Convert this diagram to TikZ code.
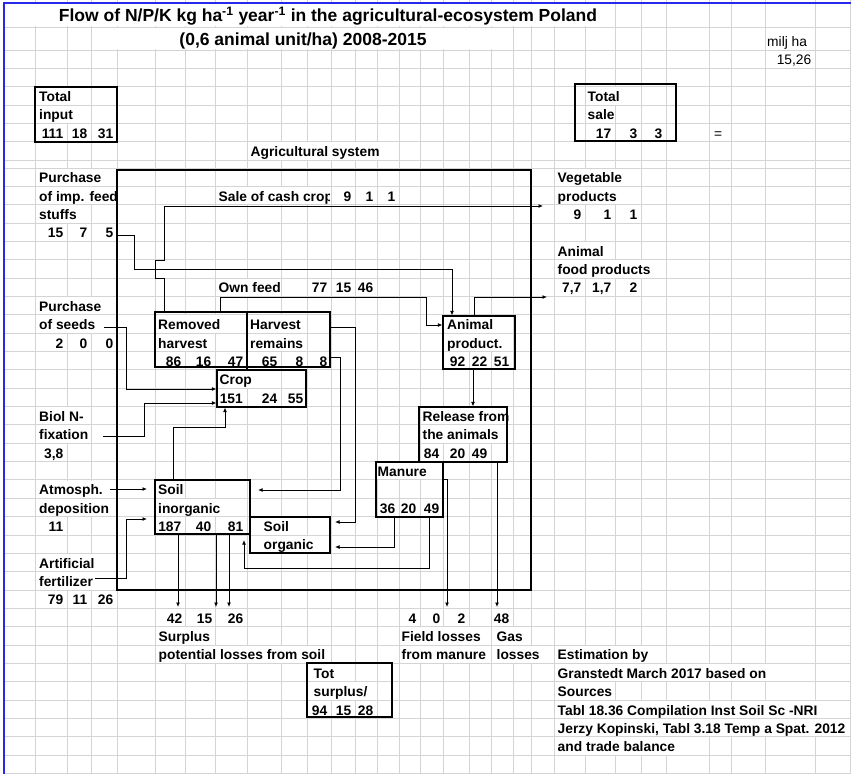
\documentclass[tikz,border=0pt]{standalone}
\usepackage{fontspec}
\setmainfont{Liberation Sans}
\usepackage{tikz}
\usetikzlibrary{arrows.meta, fit}
\definecolor{gridgray}{RGB}{212,212,212}
\definecolor{sheetblue}{RGB}{40,40,235}
\newcommand{\cellfont}{\fontsize{13.8}{16}\selectfont\bfseries}
\newcommand{\plainfont}{\fontsize{13.8}{16}\selectfont}
\newcommand{\titlefont}{\fontsize{17.5}{20}\selectfont\bfseries}
% baseline of sheet row r (rows below the thin spacer row)
\newcommand{\rowy}[1]{182.85+18.35*#1}
\tikzset{
  gridline/.style = {draw=gridgray, line width=1pt},
  lbl/.style      = {anchor=base west, font=\cellfont, fill=white, inner xsep=0.5pt, inner ysep=0pt, text height=14.3pt, text depth=3pt},
  num/.style      = {anchor=base east, font=\cellfont, inner sep=0pt},
  plain/.style    = {font=\plainfont, inner sep=0pt},
  blk/.style      = {draw, line width=1.1pt, inner sep=0pt},
  flow/.style     = {-{Latex[length=4.5pt, width=4pt]}, line width=0.9pt},
}

\begin{document}
\begin{tikzpicture}[x=1pt, y=-1pt]
    \useasboundingbox (0,0) rectangle (851,774);
    \clip (0,0) rectangle (851,774);

    % sheet grid
    \foreach \gx in {35,67,91,117,155,185,215,247,281,307,331,355,377,399,420,443,469,491,513,531,554,585,615,641,666,709,731,765,815,850}
      \draw[gridline] (\gx,0) -- (\gx,774);
    \foreach \gy in {27,50,68.35,86.7,105.05,123.4,141.75,160.1}
      \draw[gridline] (4,\gy) -- (851,\gy);
    \foreach \k in {0,...,33}
      \draw[gridline] (4,{168+18.35*\k}) -- (851,{168+18.35*\k});
    \fill[white] (5,3.6) rectangle (614.4,26.4);
    \fill[white] (91.6,27.6) rectangle (512.4,49.4);
    \draw[sheetblue, line width=1.5pt] (4,774) -- (4,3) -- (851,3);

    % title
    \node[anchor=base, font=\titlefont, inner sep=0pt] (title) at (328,21.5)
      {Flow of N/P/K kg ha\textsuperscript{-1} year\textsuperscript{-1} in the agricultural-ecosystem Poland};
    \node[anchor=base, font=\titlefont, inner sep=0pt] (subtitle) at (303,45.5)
      {(0,6 animal unit/ha) 2008-2015};
    \node[plain, anchor=base west] (milj) at (767,46.5) {milj ha};
    \node[plain, anchor=base east] (area) at (811.5,64.85) {15,26};
    \node[plain, anchor=base west] (equal) at (714,138.25) {=};

    % totals
    \node[lbl] (tin-a) at (38.5,101.55) {Total};
    \node[lbl] (tin-b) at (38.5,119.9) {input};
    \node[num] (tin-n) at (63.5,138.25) {111};
    \node[num] (tin-p) at (87.5,138.25) {18};
    \node[num] (tin-k) at (113.5,138.25) {31};
    \node[lbl] (tsale-a) at (587,101.55) {Total};
    \node[lbl] (tsale-b) at (587,119.9) {sale};
    \node[num] (tsale-n) at (611.5,138.25) {17};
    \node[num] (tsale-p) at (637.5,138.25) {3};
    \node[num] (tsale-k) at (662.5,138.25) {3};
    \node[lbl] (systxt) at (250,156.6) {Agricultural system};

    % inputs
    \node[lbl] (feed-a) at (38.5,{\rowy{0}}) {Purchase};
    \node[lbl] (feed-b) at (38.5,{\rowy{1}}) {of imp. feed};
    \node[lbl] (feed-c) at (38.5,{\rowy{2}}) {stuffs};
    \node[num] (feed-n) at (63.5,{\rowy{3}}) {15};
    \node[num] (feed-p) at (87.5,{\rowy{3}}) {7};
    \node[num] (feed-k) at (113.5,{\rowy{3}}) {5};
    \node[lbl] (seed-a) at (38.5,{\rowy{7}}) {Purchase};
    \node[lbl] (seed-b) at (38.5,{\rowy{8}}) {of seeds};
    \node[num] (seed-n) at (63.5,{\rowy{9}}) {2};
    \node[num] (seed-p) at (87.5,{\rowy{9}}) {0};
    \node[num] (seed-k) at (113.5,{\rowy{9}}) {0};
    \node[lbl] (fix-a) at (38.5,{\rowy{13}}) {Biol N-};
    \node[lbl] (fix-b) at (38.5,{\rowy{14}}) {fixation};
    \node[num] (fix-n) at (63.5,{\rowy{15}}) {3,8};
    \node[lbl] (atm-a) at (38.5,{\rowy{17}}) {Atmosph.};
    \node[lbl] (atm-b) at (38.5,{\rowy{18}}) {deposition};
    \node[num] (atm-n) at (63.5,{\rowy{19}}) {11};
    \node[lbl] (fert-a) at (38.5,{\rowy{21}}) {Artificial};
    \node[lbl] (fert-b) at (38.5,{\rowy{22}}) {fertilizer};
    \node[num] (fert-n) at (63.5,{\rowy{23}}) {79};
    \node[num] (fert-p) at (87.5,{\rowy{23}}) {11};
    \node[num] (fert-k) at (113.5,{\rowy{23}}) {26};

    % sales
    \node[lbl] (veg-a) at (557,{\rowy{0}}) {Vegetable};
    \node[lbl] (veg-b) at (557,{\rowy{1}}) {products};
    \node[num] (veg-n) at (581.5,{\rowy{2}}) {9};
    \node[num] (veg-p) at (611.5,{\rowy{2}}) {1};
    \node[num] (veg-k) at (637.5,{\rowy{2}}) {1};
    \node[lbl] (food-a) at (557,{\rowy{4}}) {Animal};
    \node[lbl] (food-b) at (557,{\rowy{5}}) {food products};
    \node[num] (food-n) at (581.5,{\rowy{6}}) {7,7};
    \node[num] (food-p) at (611.5,{\rowy{6}}) {1,7};
    \node[num] (food-k) at (637.5,{\rowy{6}}) {2};

    % flows inside the system
    \begin{scope}
      \clip (215,186.5) rectangle (329.6,204.5);
      \node[lbl] (cash-a) at (218,{\rowy{1}}) {Sale of cash crop};
    \end{scope}
    \node[num] (cash-n) at (351.5,{\rowy{1}}) {9};
    \node[num] (cash-p) at (373.5,{\rowy{1}}) {1};
    \node[num] (cash-k) at (395.5,{\rowy{1}}) {1};
    \node[lbl] (own-a) at (218,{\rowy{6}}) {Own feed};
    \node[num] (own-n) at (327.5,{\rowy{6}}) {77};
    \node[num] (own-p) at (351.5,{\rowy{6}}) {15};
    \node[num] (own-k) at (373.5,{\rowy{6}}) {46};

    \node[lbl] (rem-a) at (157.5,{\rowy{8}}) {Removed};
    \node[lbl] (rem-b) at (157.5,{\rowy{9}}) {harvest};
    \node[num] (rem-n) at (181.5,{\rowy{10}}) {86};
    \node[num] (rem-p) at (211.5,{\rowy{10}}) {16};
    \node[num] (rem-k) at (243.5,{\rowy{10}}) {47};
    \node[lbl] (res-a) at (249.5,{\rowy{8}}) {Harvest};
    \node[lbl] (res-b) at (249.5,{\rowy{9}}) {remains};
    \node[num] (res-n) at (277.5,{\rowy{10}}) {65};
    \node[num] (res-p) at (303.5,{\rowy{10}}) {8};
    \node[num] (res-k) at (327.5,{\rowy{10}}) {8};
    \node[lbl] (ani-a) at (446.5,{\rowy{8}}) {Animal};
    \node[lbl] (ani-b) at (446.5,{\rowy{9}}) {product.};
    \node[num] (ani-n) at (465.5,{\rowy{10}}) {92};
    \node[num] (ani-p) at (487.5,{\rowy{10}}) {22};
    \node[num] (ani-k) at (509.5,{\rowy{10}}) {51};
    \node[lbl] (crop-a) at (219,{\rowy{11}}) {Crop};
    \node[num] (crop-n) at (243,{\rowy{12}}) {151};
    \node[num] (crop-p) at (277.5,{\rowy{12}}) {24};
    \node[num] (crop-k) at (303.5,{\rowy{12}}) {55};
    \node[lbl] (rel-a) at (422,{\rowy{13}}) {Release from};
    \node[lbl] (rel-b) at (422,{\rowy{14}}) {the animals};
    \node[num] (rel-n) at (439.5,{\rowy{15}}) {84};
    \node[num] (rel-p) at (465.5,{\rowy{15}}) {20};
    \node[num] (rel-k) at (487.5,{\rowy{15}}) {49};
    \node[lbl] (man-a) at (377,{\rowy{16}}) {Manure};
    \node[num] (man-n) at (395.5,{\rowy{18}}) {36};
    \node[num] (man-p) at (416.5,{\rowy{18}}) {20};
    \node[num] (man-k) at (439.5,{\rowy{18}}) {49};
    \node[lbl] (sin-a) at (157.5,{\rowy{17}}) {Soil};
    \node[lbl] (sin-b) at (157.5,{\rowy{18}}) {inorganic};
    \node[num] (sin-n) at (181.5,{\rowy{19}}) {187};
    \node[num] (sin-p) at (211.5,{\rowy{19}}) {40};
    \node[num] (sin-k) at (243.5,{\rowy{19}}) {81};
    \node[lbl] (sorg-a) at (263,{\rowy{19}}) {Soil};
    \node[lbl] (sorg-b) at (263,{\rowy{20}}) {organic};

    % losses
    \node[num] (sur-n) at (182.5,{\rowy{24}}) {42};
    \node[num] (sur-p) at (212.5,{\rowy{24}}) {15};
    \node[num] (sur-k) at (243.5,{\rowy{24}}) {26};
    \node[lbl] (sur-a) at (158,{\rowy{25}}) {Surplus};
    \node[lbl] (sur-b) at (158,{\rowy{26}}) {potential losses from soil};
    \node[num] (fld-n) at (416.5,{\rowy{24}}) {4};
    \node[num] (fld-p) at (440.5,{\rowy{24}}) {0};
    \node[num] (fld-k) at (465.5,{\rowy{24}}) {2};
    \node[lbl] (fld-a) at (401,{\rowy{25}}) {Field losses};
    \node[lbl] (fld-b) at (401,{\rowy{26}}) {from manure};
    \node[num] (gas-n) at (509.5,{\rowy{24}}) {48};
    \node[lbl] (gas-a) at (496,{\rowy{25}}) {Gas};
    \node[lbl] (gas-b) at (496,{\rowy{26}}) {losses};
    \node[lbl] (tsur-a) at (313,{\rowy{27}}) {Tot};
    \node[lbl] (tsur-b) at (313,{\rowy{28}}) {surplus/};
    \node[num] (tsur-n) at (327.5,{\rowy{29}}) {94};
    \node[num] (tsur-p) at (351.5,{\rowy{29}}) {15};
    \node[num] (tsur-k) at (373.5,{\rowy{29}}) {28};

    % sources
    \node[lbl] (src-a) at (557,{\rowy{26}}) {Estimation by};
    \node[lbl] (src-b) at (557,{\rowy{27}}) {Granstedt March 2017 based on};
    \node[lbl] (src-c) at (557,{\rowy{28}}) {Sources};
    \node[lbl] (src-d) at (557,{\rowy{29}}) {Tabl 18.36 Compilation Inst Soil Sc -NRI};
    \node[lbl] (src-e) at (557,{\rowy{30}}) {Jerzy Kopinski, Tabl 3.18 Temp a Spat. 2012};
    \node[lbl] (src-f) at (557,{\rowy{31}}) {and trade balance};

    % boxes
    \node[blk, fit={(35,87) (117,142)}] (totin) {};
    \node[blk, fit={(575,84) (676,141)}] (totsale) {};
    \node[blk, line width=1.3pt, fit={(117,170) (531,590)}] (agri) {};
    \node[blk, fit={(155,312) (330,367)}] (harv) {};
    \node[blk, fit={(217,370) (306,407)}] (crop) {};
    \node[blk, fit={(443,316) (515,369)}] (animal) {};
    \node[blk, fit={(419,407) (507,462)}] (release) {};
    \node[blk, fit={(376,462) (443,517)}] (manure) {};
    \node[blk, fit={(155,480) (250,534)}] (soilin) {};
    \node[blk, fit={(250,517) (330,553)}] (soilorg) {};
    \node[blk, fit={(307,663) (392,717)}] (totsur) {};
    \draw[line width=1.1pt] (247,0 |- harv.north) -- (247,0 |- crop.north);

    % free ends
    \coordinate (feedout) at (117,235);
    \coordinate (vegin)   at (543,206);
    \coordinate (foodin)  at (547,297);
    \coordinate (seedout) at (104,327);
    \coordinate (fixout)  at (103,436);
    \coordinate (atmout)  at (110,489);
    \coordinate (atmin)   at (147,489);
    \coordinate (fertout) at (95,578);
    \coordinate (fertin)  at (147,519);
    \coordinate (orgin)   at (335,522);
    \coordinate (inorgin) at (258,490);
    \coordinate (manorg)  at (335,547);
    \coordinate (maninorg) at (244,540);
    \coordinate (fieldin) at (447,607);
    \coordinate (gasin)   at (497,607);

    % flows
    \draw[flow] (feedout) -- (134,235) -- (134,269) -- (452,269) -- (452,0 |- animal.north);
    \draw[flow] (164,0 |- harv.north) -- (164,278) -- (155,278) -- (155,260) -- (164,260) -- (164,206) -- (vegin);
    \draw[flow] (220,0 |- harv.north) -- (220,297) -- (426,297) -- (426,325) -- (animal.west |- 0,325);
    \draw[flow] (474,0 |- animal.north) -- (474,297) -- (foodin);
    \draw[flow] (473,0 |- animal.south) -- (473,0 |- release.north);
    \draw[flow] (seedout) -- (126,327) -- (126,389) -- (crop.west |- 0,389);
    \draw[flow] (fixout) -- (144,436) -- (144,403) -- (crop.west |- 0,403);
    \draw[flow] (173,0 |- soilin.north) -- (173,427) -- (225,427) -- (225,0 |- crop.south);
    \draw[flow] (atmout) -- (atmin);
    \draw[flow] (fertout) -- (126,578) -- (126,519) -- (fertin);
    \draw[flow] (harv.east |- 0,327) -- (355,327) -- (355,522) -- (orgin);
    \draw[flow] (harv.east |- 0,357) -- (340,357) -- (340,490) -- (inorgin);
    \draw[flow] (394,0 |- manure.south) -- (394,547) -- (manorg);
    \draw[flow] (429,0 |- manure.south) -- (429,568) -- (244,568) -- (maninorg);
    \draw[flow] (manure.east |- 0,479) -- (447,479) -- (fieldin);
    \draw[flow] (497,0 |- release.south) -- (gasin);
    \foreach \sx in {178,216,229}
      \draw[flow] (\sx,0 |- soilin.south) -- (\sx,607);
\end{tikzpicture}
\end{document}
